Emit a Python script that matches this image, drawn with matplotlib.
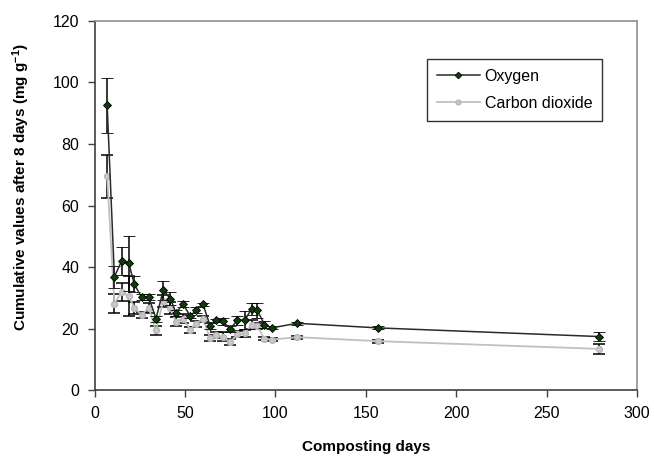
import matplotlib
matplotlib.use("Agg")
import matplotlib.pyplot as plt
from matplotlib.lines import Line2D

plt.rcParams['font.family'] = ['Liberation Sans', 'DejaVu Sans']
plt.rcParams['mathtext.fontset'] = 'custom'
plt.rcParams['mathtext.rm'] = 'Liberation Sans'
plt.rcParams['mathtext.bf'] = 'Liberation Sans:bold'

days = [7, 11, 15, 19, 22, 26, 30, 34, 38, 42, 45, 49, 53, 56, 60, 64, 67,
        71, 75, 79, 83, 87, 90, 94, 98, 112, 157, 279]
oxygen = [92.5, 36.9, 42.0, 41.2, 34.5, 30.3, 30.3, 23.3, 32.5, 29.8, 25.2,
          28.0, 24.1, 26.0, 28.0, 20.9, 22.8, 22.4, 20.0, 22.8, 22.8, 26.5,
          26.0, 21.4, 20.3, 21.8, 20.3, 17.5]
oxygen_err = [9, 3.5, 4.5, 9, 2.5, 1, 1, 1, 3, 2, 1, 1, 0.5, 1, 0.5, 1, 0.5,
              1, 1, 1.5, 3, 2, 2.4, 1, 0.5, 0.5, 0.5, 1.5]
co2 = [69.5, 28.2, 32.0, 30.6, 26.8, 24.6, 26.8, 19.5, 29.0, 26.8, 22.3,
       23.3, 19.7, 21.7, 23.2, 16.9, 17.9, 17.4, 15.6, 18.2, 18.5, 21.4,
       20.9, 16.8, 16.5, 17.3, 16.0, 13.5]
co2_err = [7, 3, 3, 6.5, 2, 1, 1.5, 1.5, 2, 2, 1.5, 1.5, 1, 1, 1, 1, 1, 1.5,
           1, 1, 1, 1.5, 1, 0.5, 0.5, 0.5, 0.5, 1.5]

xticks = [0, 50, 100, 150, 200, 250, 300]
yticks = [0, 20, 40, 60, 80, 100, 120]

fig = plt.figure(figsize=(6.54, 4.58), dpi=100)
ax = fig.add_axes([0.1445, 0.1474, 0.8295, 0.8076])

ax.errorbar(days, co2, yerr=co2_err, color='#c0c0c0', lw=1.3,
            marker='o', ms=4.2, mfc='#c8c8c8', mec='#b8b8b8',
            ecolor='black', elinewidth=1.1, capsize=4, capthick=1.1,
            label='Carbon dioxide', zorder=2)
ax.errorbar(days, oxygen, yerr=oxygen_err, color='#2a2a2a', lw=1.1,
            marker='D', ms=4.5, mfc='#0f3d0a', mec='black', mew=0.6,
            ecolor='black', elinewidth=1.1, capsize=4, capthick=1.1,
            label='Oxygen', zorder=3)

ax.set_xlim(0, 300)
ax.set_ylim(0, 120)
ax.set_xticks(xticks)
ax.set_yticks(yticks)
ax.tick_params(axis='both', direction='out', length=5, width=1,
               color='#404040', labelsize=11.5, pad=6)

for s in ['left', 'bottom']:
    ax.spines[s].set_color('#404040')
    ax.spines[s].set_linewidth(1.2)
for s in ['top', 'right']:
    ax.spines[s].set_color('#909090')
    ax.spines[s].set_linewidth(1.2)

ax.set_xlabel('Composting days', fontsize=11, fontweight='bold', labelpad=14)
fig.text(0.033, 0.592, r'Cumulative values after 8 days (mg g$\mathbf{^{-1}}$)',
         rotation=90, ha='center', va='center', fontsize=11,
         fontweight='bold')

h_ox = Line2D([], [], color='#2a2a2a', lw=1.1, marker='D', ms=3.5,
              mfc='#0f3d0a', mec='black', mew=0.5)
h_co = Line2D([], [], color='#c0c0c0', lw=1.3, marker='o', ms=3.5,
              mfc='#c8c8c8', mec='#b8b8b8')
leg = ax.legend([h_ox, h_co], ['Oxygen', 'Carbon dioxide'],
                loc='upper left', bbox_to_anchor=(0.613, 0.895),
                fontsize=11.5, frameon=True, fancybox=False, shadow=False,
                handlelength=2.7, handletextpad=0.3, borderpad=0.6,
                labelspacing=0.75, borderaxespad=0)
leg.get_frame().set_edgecolor('black')
leg.get_frame().set_linewidth(1)

fig.savefig('out.png', dpi=100)
